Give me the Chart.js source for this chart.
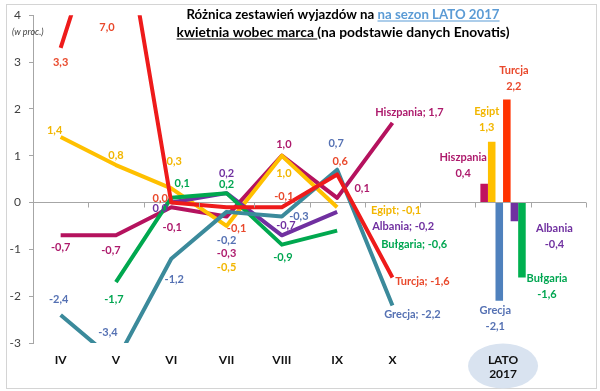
<!DOCTYPE html>
<html><head><meta charset="utf-8">
<script src="https://cdn.jsdelivr.net/npm/chart.js@4/dist/chart.umd.min.js"></script>
<style>html,body{margin:0;padding:0;background:#fff;}</style>
</head><body>
<canvas id="c" width="600" height="391"></canvas>
<script>
// ---- DATA ----
const categories = ['IV','V','VI','VII','VIII','IX','X','',['LATO','2017'],''];
const yMin = -3, yMax = 4, yStep = 1;
const hiszpania = [-0.7,-0.7,-0.1,-0.3,1.0,0.1,1.7];
const egipt     = [1.4,0.8,0.3,-0.5,1.0,-0.1,null];
const grecja    = [-2.4,-3.4,-1.2,-0.2,-0.3,0.7,-2.2];
const turcja    = [3.3,7.0,0.0,-0.1,-0.1,0.6,-1.6];
const albania   = [null,null,0.0,0.2,-0.7,-0.2,null];
const bulgaria  = [null,-1.7,0.1,0.2,-0.9,-0.6,null];
const seasonCountries = ['Hiszpania','Egipt','Grecja','Turcja','Albania','Bułgaria'];
const seasonValues    = [0.4,1.3,-2.1,2.2,-0.4,-1.6];
const seasonIndex = 8;
const titleLine1 = [['Różnica zestawień wyjazdów na ', 'plain'], ['na sezon LATO 2017', 'link']];
const titleLine2 = [['kwietnia wobec marca ', 'under'], ['(na podstawie danych Enovatis)', 'plain']];
const unitText = '(w proc.)';

// ---- STYLES ----
const styles = {
  'Hiszpania': {line:'#b5125e', bar:'#c0135e', text:'#ad1a6c', order:5},
  'Egipt':     {line:'#ffc000', bar:'#ffc000', text:'#f2b600', order:4},
  'Grecja':    {line:'#3b8a9b', bar:'#4f81bd', text:'#5571b3', order:1},
  'Turcja':    {line:'#ee1b1b', bar:'#ff3300', text:'#e9482b', order:0},
  'Albania':   {line:'#7030a0', bar:'#7030a0', text:'#7030a0', order:3},
  'Bułgaria':  {line:'#00a84f', bar:'#00b050', text:'#00a651', order:2}
};
const lineSeries = [
  ['Hiszpania', hiszpania], ['Egipt', egipt], ['Grecja', grecja],
  ['Turcja', turcja], ['Albania', albania], ['Bułgaria', bulgaria]
];
// label offsets (dx, dy) from each point, per series
const lineLabelOffsets = {
  'Hiszpania': [[0,12],[-5,15],[1,20],[0,37],[2,-11],[25,-9],[17,-10]],
  'Egipt':     [[-6,-7],[0,-10],[3,-27],[0,42],[2,18],[59,3]],
  'Grecja':    [[-2,-15],[-8,-11],[3,21],[0,29],[17,0],[-1,-26],[20,9]],
  'Turcja':    [[0,14],[-9,12],[-11,-4],[10,21],[2,-11],[3,-13],[30,4]],
  'Albania':   [null,null,[-11,6],[0,-20],[4,-10],[66,15]],
  'Bułgaria':  [null,[-2,17],[11,-14],[0,-9],[1,13],[77,14]]
};
const barLabelOffsets = {
  'Hiszpania': [-21,-18], 'Egipt': [-5,-22], 'Grecja': [-4,18],
  'Turcja': [7,-21], 'Albania': [40,15], 'Bułgaria': [25,9]
};

const fmt = v => v.toFixed(1).replace('.', ',');

const datasets = [];
lineSeries.forEach(([name, data]) => {
  datasets.push({
    type:'line', label:name, data:data,
    borderColor:styles[name].line, backgroundColor:styles[name].line,
    borderWidth:4, pointRadius:0, pointHoverRadius:0, fill:false, tension:0,
    borderJoinStyle:'round', spanGaps:false, clip:0, order:styles[name].order
  });
});
seasonCountries.forEach((name, k) => {
  const arr = categories.map(() => null);
  arr[seasonIndex] = seasonValues[k];
  datasets.push({
    type:'bar', label:name, data:arr, backgroundColor:styles[name].bar,
    categoryPercentage:0.82, barPercentage:1.0, order:10+k
  });
});

const decoPlugin = {
  id:'deco',
  beforeDraw(chart){
    const ctx = chart.ctx, xs = chart.scales.x;
    ctx.save();
    ctx.fillStyle = '#fff'; ctx.fillRect(0,0,chart.width,chart.height);
    ctx.strokeStyle = '#d4d4d4'; ctx.lineWidth = 1;
    ctx.strokeRect(6.5, 4.5, 590, 384);
    const cx = xs.getPixelForValue(seasonIndex);
    ctx.fillStyle = '#d9e3f0';
    ctx.beginPath(); ctx.ellipse(cx, 366, 35, 22.5, 0, 0, Math.PI*2); ctx.fill();
    ctx.restore();
  },
  afterDraw(chart){
    const ctx = chart.ctx, xs = chart.scales.x, ys = chart.scales.y;
    ctx.save();
    const y0 = Math.round(ys.getPixelForValue(0)) + 0.5;
    const n = categories.length, w = (xs.right - xs.left)/n;
    ctx.strokeStyle = '#a6a6a6'; ctx.lineWidth = 1;
    for (let i=0;i<=n;i++){
      const x = Math.round(xs.left + i*w) + 0.5;
      ctx.beginPath(); ctx.moveTo(x, y0-1); ctx.lineTo(x, y0+4); ctx.stroke();
    }
    ctx.font = 'italic 9px Lato'; ctx.fillStyle = '#404040';
    ctx.textAlign = 'left'; ctx.textBaseline = 'middle';
    ctx.fillText(unitText, 12, 32);
    ctx.textBaseline = 'alphabetic';
    const drawLine = (segs, y, targetW) => {
      let size = 13;
      ctx.font = 'bold ' + size + 'px Lato';
      let tot = segs.reduce((a,s)=>a+ctx.measureText(s[0]).width,0);
      size = size * targetW / tot;
      ctx.font = 'bold ' + size.toFixed(2) + 'px Lato';
      tot = segs.reduce((a,s)=>a+ctx.measureText(s[0]).width,0);
      let x = 343 - tot/2;
      segs.forEach(([t, kind]) => {
        const tw = ctx.measureText(t).width;
        ctx.fillStyle = kind === 'link' ? '#5b9bd5' : '#000';
        ctx.fillText(t, x, y);
        if (kind !== 'plain') ctx.fillRect(x, y+1.5, tw, 1);
        x += tw;
      });
    };
    drawLine(titleLine1, 19, 313);
    drawLine(titleLine2, 37, 333);
    ctx.restore();
  },
  afterDatasetsDraw(chart){
    const ctx = chart.ctx, area = chart.chartArea;
    ctx.save();
    ctx.font = 'bold 11px Lato'; ctx.textAlign = 'center'; ctx.textBaseline = 'middle';
    chart.data.datasets.forEach((ds, di) => {
      const meta = chart.getDatasetMeta(di);
      const st = styles[ds.label];
      ctx.fillStyle = st.text;
      if (ds.type === 'line') {
        let last = -1;
        ds.data.forEach((v,i)=>{ if (v !== null && v !== undefined) last = i; });
        ds.data.forEach((v,i)=>{
          if (v === null || v === undefined) return;
          const el = meta.data[i];
          const off = lineLabelOffsets[ds.label][i] || [0,-10];
          const y = Math.min(Math.max(el.y, area.top), area.bottom);
          let txt = fmt(v);
          if (i === last) txt = ds.label + '; ' + txt;
          ctx.fillText(txt, el.x + off[0], y + off[1]);
        });
      } else {
        const el = meta.data[seasonIndex];
        const v = ds.data[seasonIndex];
        const off = barLabelOffsets[ds.label];
        const cx = el.x + off[0], cy = el.y + off[1];
        ctx.fillText(ds.label, cx, cy - 8);
        ctx.fillText(fmt(v), cx, cy + 8);
      }
    });
    ctx.restore();
  }
};

new Chart(document.getElementById('c'), {
  data: { labels: categories, datasets: datasets },
  options: {
    responsive:false, animation:false, devicePixelRatio:1,
    layout:{ padding:{ top:15, right:14, bottom:0, left:0 } },
    plugins:{ legend:{display:false}, tooltip:{enabled:false}, title:{display:false} },
    scales:{
      x:{
        type:'category', offset:true,
        grid:{display:false}, border:{display:false},
        ticks:{ color:'#111', font:{family:'Lato', weight:'bold', size:12}, padding:2, maxRotation:0, autoSkip:false },
        afterFit(s){ s.height = 48; }
      },
      y:{
        min:yMin, max:yMax,
        ticks:{ stepSize:yStep, color:'#404040', font:{family:'Lato', size:12}, padding:8 },
        grid:{ drawOnChartArea:true, color:c => (c.tick && c.tick.value === 0) ? '#a6a6a6' : 'rgba(0,0,0,0)',
               tickColor:'#a6a6a6', tickLength:4, lineWidth:1 },
        border:{ color:'#a6a6a6' },
        afterFit(s){ s.width = 33; }
      }
    }
  },
  plugins:[decoPlugin]
});
</script>
</body></html>
